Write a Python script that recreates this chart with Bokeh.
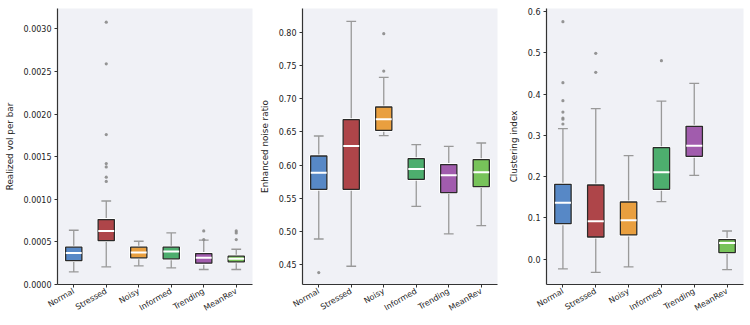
import math
from bokeh.plotting import figure
from bokeh.layouts import row
from bokeh.models import FixedTicker, NumeralTickFormatter, ColumnDataSource, Range1d
from bokeh.embed import file_html
from bokeh.resources import INLINE

categories = ["Normal", "Stressed", "Noisy", "Informed", "Trending", "MeanRev"]
colors = ["#4a7fc1", "#a8363a", "#e8982f", "#3fa862", "#9a4fa6", "#6cbf4c"]

# Panel 1: Realized vol per bar
vol_whislo = [0.000148, 0.000207, 0.000219, 0.000195, 0.000176, 0.000176]
vol_q1     = [0.000281, 0.000516, 0.000313, 0.000301, 0.000250, 0.000266]
vol_med    = [0.000371, 0.000629, 0.000375, 0.000387, 0.000313, 0.000301]
vol_q3     = [0.000438, 0.000762, 0.000438, 0.000438, 0.000363, 0.000332]
vol_whishi = [0.000637, 0.000980, 0.000508, 0.000605, 0.000520, 0.000414]
vol_outliers = [[], [0.00308, 0.00259, 0.00176, 0.00142, 0.00138, 0.00126, 0.00121], [], [],
                [0.000629, 0.000527], [0.000629, 0.000605, 0.000527]]

# Panel 2: Enhanced noise ratio
noise_whislo = [0.4886, 0.4475, 0.6444, 0.5379, 0.4962, 0.5088]
noise_q1     = [0.5635, 0.5635, 0.6524, 0.5785, 0.5585, 0.5676]
noise_med    = [0.5886, 0.6287, 0.6689, 0.5941, 0.5846, 0.5891]
noise_q3     = [0.6137, 0.6685, 0.6875, 0.6097, 0.6007, 0.6082]
noise_whishi = [0.6438, 0.8166, 0.7322, 0.6308, 0.6283, 0.6333]
noise_outliers = [[0.438], [], [0.798, 0.7417], [], [], []]

# Panel 3: Clustering index
clu_whislo = [-0.0234, -0.0315, -0.0185, 0.1396, 0.2032, -0.0249]
clu_q1     = [0.0863, 0.0540, 0.0589, 0.1694, 0.2492, 0.0162]
clu_med    = [0.1371, 0.0919, 0.0944, 0.2105, 0.2751, 0.0394]
clu_q3     = [0.1815, 0.1798, 0.1387, 0.2702, 0.3218, 0.0477]
clu_whishi = [0.3162, 0.3646, 0.2509, 0.3830, 0.4258, 0.0685]
clu_outliers = [[0.575, 0.4275, 0.384, 0.3564, 0.3420, 0.3390, 0.3274], [0.4984, 0.4525], [], [0.4807], [], []]

FONT = "DejaVu Sans"


def make_panel(width, left, right, whislo, q1, med, q3, whishi, outliers, ylabel, yr, ticks, fmt):
    p = figure(width=width, height=325, output_backend="svg", toolbar_location=None,
               x_range=Range1d(-0.5, 5.5), y_range=Range1d(*yr),
               min_border_left=left, min_border_right=right, min_border_top=8, min_border_bottom=41)
    p.background_fill_color = "#f0f1f6"
    p.border_fill_color = "white"
    p.outline_line_color = None
    p.grid.visible = False
    xs = list(range(len(categories)))
    src = ColumnDataSource(dict(x=xs, lo=whislo, q1=q1, med=med, q3=q3, hi=whishi, color=colors,
                                x0=[x - 0.15 for x in xs], x1=[x + 0.15 for x in xs],
                                m0=[x - 0.245 for x in xs], m1=[x + 0.245 for x in xs]))
    # whiskers
    p.segment(x0="x", y0="q3", x1="x", y1="hi", source=src, line_color="#999999", line_width=1.3)
    p.segment(x0="x", y0="q1", x1="x", y1="lo", source=src, line_color="#999999", line_width=1.3)
    p.segment(x0="x0", y0="hi", x1="x1", y1="hi", source=src, line_color="#999999", line_width=1.3)
    p.segment(x0="x0", y0="lo", x1="x1", y1="lo", source=src, line_color="#999999", line_width=1.3)
    # boxes
    p.vbar(x="x", width=0.5, top="q3", bottom="q1", source=src, fill_color=None,
           line_color="white", line_width=3.0)
    p.vbar(x="x", width=0.5, top="q3", bottom="q1", source=src, fill_color="color",
           fill_alpha=0.92, line_color="#2a2a2a", line_width=1.3)
    # medians
    p.segment(x0="m0", y0="med", x1="m1", y1="med", source=src, line_color="white", line_width=2.0)
    # outliers
    ox, oy = [], []
    for i, vals in enumerate(outliers):
        for v in vals:
            ox.append(i)
            oy.append(v)
    p.scatter(ox, oy, size=3.2, marker="circle", fill_color="#8a8a8a", line_color=None, fill_alpha=0.9)

    p.xaxis.ticker = FixedTicker(ticks=xs)
    p.xaxis.major_label_overrides = {i: c for i, c in enumerate(categories)}
    p.xaxis.major_label_orientation = math.pi / 6
    p.yaxis.ticker = FixedTicker(ticks=ticks)
    p.yaxis.formatter = NumeralTickFormatter(format=fmt)
    p.yaxis.axis_label = ylabel
    for ax in (p.xaxis, p.yaxis):
        ax.axis_line_color = "#333333"
        ax.axis_line_width = 1.2
        ax.major_tick_line_color = "#333333"
        ax.major_tick_out = 3
        ax.major_tick_in = 0
        ax.minor_tick_line_color = None
        ax.major_label_text_font = FONT
        ax.major_label_text_font_size = "8px"
        ax.major_label_text_color = "#222222"
        ax.major_label_standoff = 3
        ax.axis_label_text_font = FONT
        ax.axis_label_text_font_size = "8.8px"
        ax.axis_label_text_font_style = "normal"
        ax.axis_label_text_color = "#222222"
        ax.axis_label_standoff = 6
    return p


p1 = make_panel(255, 57, 3, vol_whislo, vol_q1, vol_med, vol_q3, vol_whishi, vol_outliers,
                "Realized vol per bar", (0.0, 0.00324),
                [0.0, 0.0005, 0.001, 0.0015, 0.002, 0.0025, 0.003], "0.0000")
p2 = make_panel(245, 47, 3, noise_whislo, noise_q1, noise_med, noise_q3, noise_whishi, noise_outliers,
                "Enhanced noise ratio", (0.420, 0.836),
                [0.45, 0.5, 0.55, 0.6, 0.65, 0.7, 0.75, 0.8], "0.00")
p3 = make_panel(250, 46, 7, clu_whislo, clu_q1, clu_med, clu_q3, clu_whishi, clu_outliers,
                "Clustering index", (-0.061, 0.607),
                [0.0, 0.1, 0.2, 0.3, 0.4, 0.5, 0.6], "0.0")

layout = row(p1, p2, p3)
open("out.html", "w").write(file_html(layout, INLINE))
